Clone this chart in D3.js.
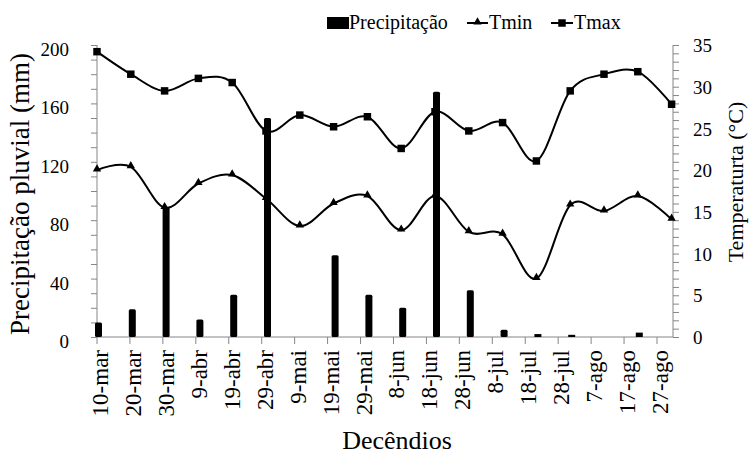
<!DOCTYPE html>
<html>
<head>
<meta charset="utf-8">
<script src="https://cdn.jsdelivr.net/npm/d3@7"></script>
<style>
  body { margin: 0; background: #fff; }
  svg text { font-family: 'Liberation Serif', 'Times New Roman', serif; }
</style>
</head>
<body>
<svg id="chart" width="751" height="455"></svg>
<script>
const decendios = ['10-mar', '20-mar', '30-mar', '9-abr', '19-abr', '29-abr', '9-mai', '19-mai', '29-mai',
  '8-jun', '18-jun', '28-jun', '8-jul', '18-jul', '28-jul', '7-ago', '17-ago', '27-ago']
const precipitacao = [10, 19, 89, 12, 29, 150, 0, 56, 29, 20, 168, 32, 5, 2, 1.5, 0, 3, 0]
const tmin = [20.0, 20.4, 15.5, 18.4, 19.4, 16.6, 13.3, 16.0, 16.9, 12.8, 16.9, 12.6, 12.3, 7.0, 15.8, 15.1, 16.9, 14.1]
const tmax = [34.2, 31.5, 29.5, 31.0, 30.5, 24.7, 26.6, 25.2, 26.4, 22.6, 27.0, 24.7, 25.7, 21.1, 29.5, 31.5, 31.8, 27.9]
const precTicks = [0, 40, 80, 120, 160, 200]
const tempTicks = [0, 5, 10, 15, 20, 25, 30, 35]

const svg = d3.select('#chart')
const axisColor = '#868686'
const plot = { left: 97, right: 673, top: 45, bottom: 337 }

// data points span the whole plot, the category ticks stop a bit earlier (as in the original)
const x = d3.scalePoint().domain(decendios).range([plot.left, 671.6])
const xTick = d3.scalePoint().domain(decendios).range([plot.left, 657])
const yP = d3.scaleLinear().domain([0, 200]).range([plot.bottom, plot.top])
const yT = d3.scaleLinear().domain([0, 35]).range([plot.bottom, plot.top])

// left axis, minor ticks every 10 mm
const leftAxis = svg.append('g')
  .attr('transform', `translate(${plot.left},0)`)
  .call(d3.axisLeft(yP)
    .tickValues(d3.range(0, 201, 10))
    .tickSize(6)
    .tickPadding(22)
    .tickFormat(d => precTicks.includes(d) ? d : ''))
leftAxis.selectAll('line, path').attr('stroke', axisColor)
leftAxis.select('.domain').attr('d', `M0,${plot.top}V${plot.bottom}`)
leftAxis.selectAll('text')
  .attr('fill', '#000')
  .style('font-size', '19px')
  .attr('dy', '0.55em')

// right axis, ticks every 1 °C
const rightAxis = svg.append('g')
  .attr('transform', `translate(${plot.right},0)`)
  .call(d3.axisRight(yT)
    .tickValues(d3.range(0, 36, 1))
    .tickSize(6)
    .tickPadding(14)
    .tickFormat(d => tempTicks.includes(d) ? d : ''))
rightAxis.selectAll('line, path').attr('stroke', axisColor)
rightAxis.select('.domain').attr('d', `M0,${plot.top}V${plot.bottom}`)
rightAxis.selectAll('text')
  .attr('fill', '#000')
  .style('font-size', '19px')
  .attr('dy', '0.35em')

// bottom axis line + category ticks
svg.append('line')
  .attr('x1', plot.left).attr('x2', plot.right)
  .attr('y1', plot.bottom).attr('y2', plot.bottom)
  .attr('stroke', axisColor)
svg.append('g')
  .selectAll('line')
  .data(decendios)
  .enter()
  .append('line')
  .attr('x1', d => xTick(d)).attr('x2', d => xTick(d))
  .attr('y1', plot.bottom).attr('y2', plot.bottom + 7)
  .attr('stroke', axisColor)

// rotated category labels
svg.append('g')
  .selectAll('text')
  .data(decendios)
  .enter()
  .append('text')
  .attr('transform', d => `translate(${xTick(d) + 11},${plot.bottom + 13}) rotate(-90)`)
  .attr('text-anchor', 'end')
  .style('font-size', '23px')
  .text(d => d)

// temperature lines (smoothed like the spreadsheet)
const line = yScale => d3.line()
  .x((d, i) => x(decendios[i]))
  .y(d => yScale(d))
  .curve(d3.curveCatmullRom.alpha(0))

svg.append('path')
  .datum(tmax)
  .attr('d', line(yT))
  .attr('fill', 'none')
  .attr('stroke', '#000')
  .attr('stroke-width', 2)
svg.append('path')
  .datum(tmin)
  .attr('d', line(yT))
  .attr('fill', 'none')
  .attr('stroke', '#000')
  .attr('stroke-width', 2)

// markers
const square = d3.symbol().type(d3.symbolSquare).size(56)
const triangle = d3.symbol().type(d3.symbolTriangle).size(30)
svg.append('g')
  .selectAll('path')
  .data(tmax)
  .enter()
  .append('path')
  .attr('d', square)
  .attr('transform', (d, i) => `translate(${x(decendios[i])},${yT(d)})`)
  .attr('fill', '#000')
svg.append('g')
  .selectAll('path')
  .data(tmin)
  .enter()
  .append('path')
  .attr('d', triangle)
  .attr('transform', (d, i) => `translate(${x(decendios[i])},${yT(d) - 1})`)
  .attr('fill', '#000')

// precipitation bars (on top of the lines)
const barW = 7
svg.append('g')
  .selectAll('rect')
  .data(precipitacao)
  .enter()
  .append('rect')
  .attr('x', (d, i) => x(decendios[i]) - barW / 2 + 1.5)
  .attr('y', d => yP(d))
  .attr('width', barW)
  .attr('height', d => plot.bottom - yP(d))
  .attr('rx', d => d > 3 ? 1.5 : 0)
  .attr('fill', '#000')

// axis titles
svg.append('text')
  .attr('transform', 'translate(29,194) rotate(-90)')
  .attr('text-anchor', 'middle')
  .style('font-size', '27px')
  .text('Precipitação pluvial (mm)')
svg.append('text')
  .attr('transform', 'translate(743,182) rotate(-90)')
  .attr('text-anchor', 'middle')
  .style('font-size', '22px')
  .text('Temperaturta (°C)')
svg.append('text')
  .attr('x', 397)
  .attr('y', 449)
  .attr('text-anchor', 'middle')
  .style('font-size', '26px')
  .text('Decêndios')

// legend
const legend = svg.append('g').style('font-size', '20px')
legend.append('rect')
  .attr('x', 327).attr('y', 17)
  .attr('width', 22).attr('height', 12)
  .attr('fill', '#000')
legend.append('text').attr('x', 349).attr('y', 29).text('Precipitação')
legend.append('line')
  .attr('x1', 467).attr('x2', 488).attr('y1', 23).attr('y2', 23)
  .attr('stroke', '#000').attr('stroke-width', 2)
legend.append('path')
  .attr('d', triangle)
  .attr('transform', 'translate(477.5,22)')
legend.append('text').attr('x', 489).attr('y', 29).text('Tmin')
legend.append('line')
  .attr('x1', 551).attr('x2', 573).attr('y1', 23).attr('y2', 23)
  .attr('stroke', '#000').attr('stroke-width', 2)
legend.append('path')
  .attr('d', square)
  .attr('transform', 'translate(562,23)')
legend.append('text').attr('x', 574).attr('y', 29).text('Tmax')
</script>
</body>
</html>
